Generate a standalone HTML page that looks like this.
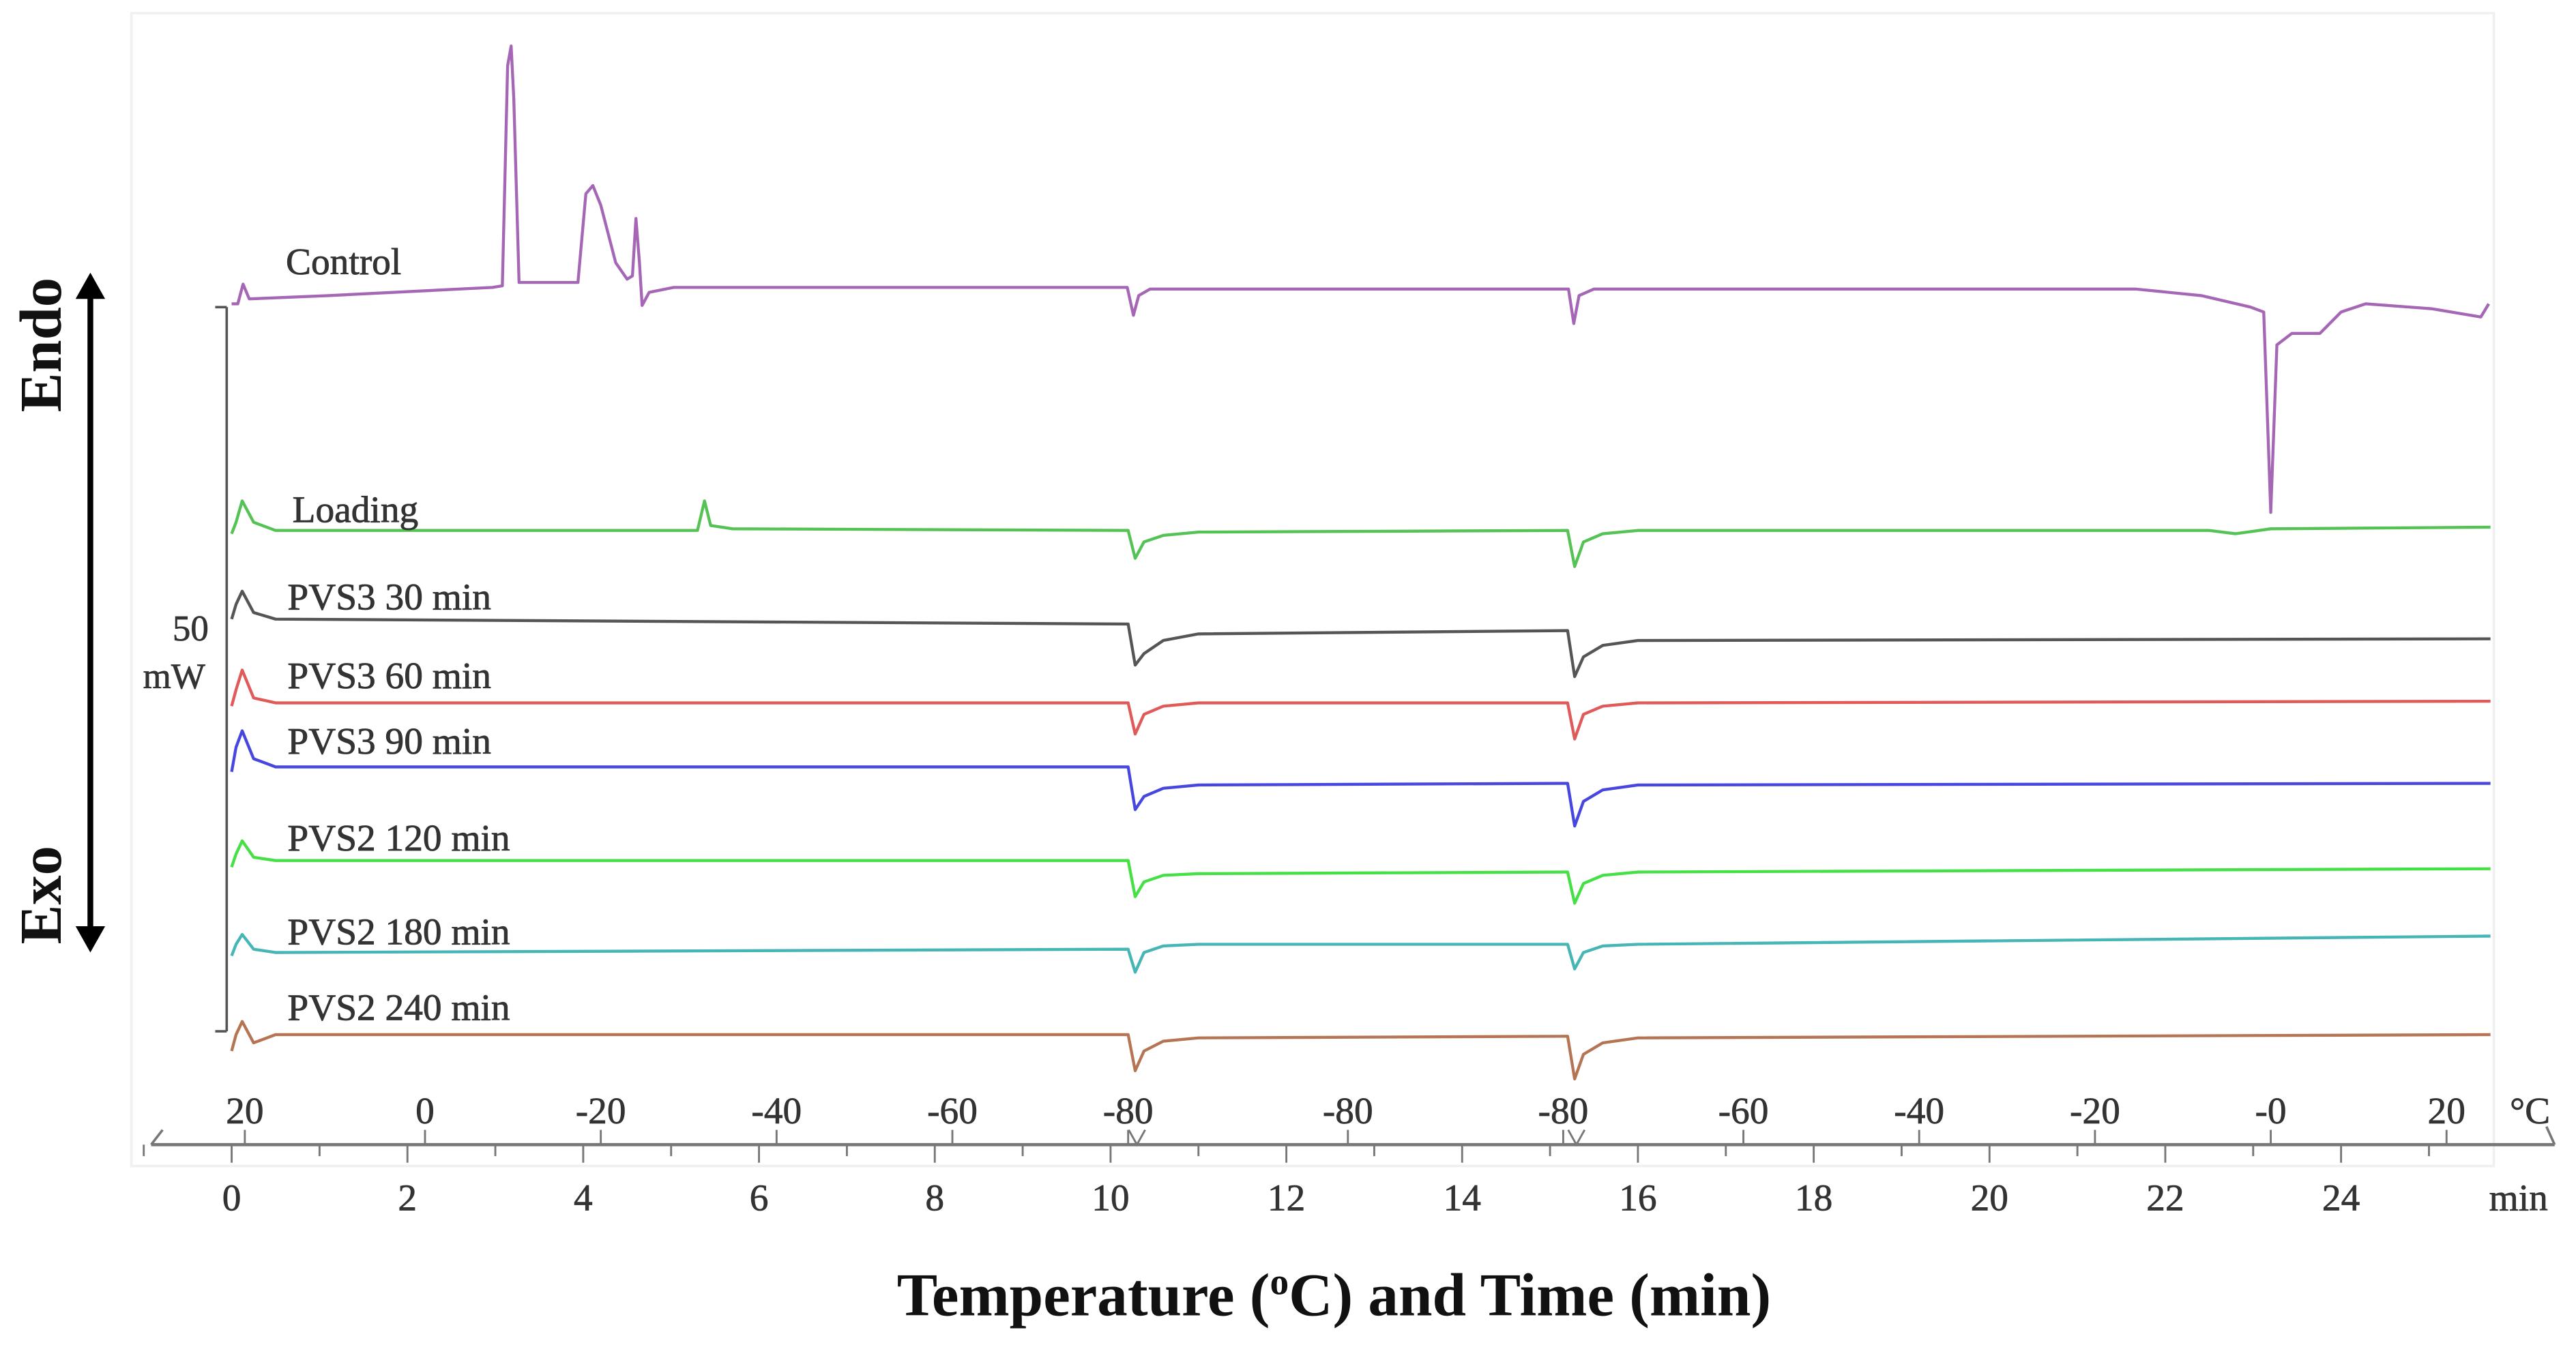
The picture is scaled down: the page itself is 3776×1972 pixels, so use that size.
<!DOCTYPE html>
<html><head><meta charset="utf-8"><style>
html,body{margin:0;padding:0;background:#fff;}
svg{display:block;}
text{font-family:"Liberation Serif",serif;}
</style></head><body>
<svg id="chart" width="3776" height="1972" viewBox="0 0 1568 819" preserveAspectRatio="none" xmlns="http://www.w3.org/2000/svg">
<rect x="80" y="8" width="1438" height="702" fill="#fff" stroke="#f0f0f0" stroke-width="1.5"/>
<g id="traces"></g>
<g id="axis"></g>
<line x1="138" y1="187" x2="138" y2="628" stroke="#555" stroke-width="1.5"/>
<line x1="131" y1="187" x2="138" y2="187" stroke="#555" stroke-width="1.5"/>
<line x1="131" y1="628" x2="138" y2="628" stroke="#555" stroke-width="1.5"/>
<text x="116" y="390" font-size="22" text-anchor="middle" fill="#333" stroke="#333" stroke-width="0.3">50</text>
<text x="106" y="419" font-size="22" text-anchor="middle" fill="#333" stroke="#333" stroke-width="0.3">mW</text>
<line x1="55" y1="178" x2="55" y2="570" stroke="#000" stroke-width="3.5"/>
<polygon points="55,166 46,182 64,182" fill="#000"/>
<polygon points="55,580 46,564 64,564" fill="#000"/>
<text transform="translate(37,210) rotate(-90)" font-size="36" font-weight="bold" text-anchor="middle" fill="#111">Endo</text>
<text transform="translate(37,545) rotate(-90)" font-size="36" font-weight="bold" text-anchor="middle" fill="#111">Exo</text>
<text x="812" y="801" font-size="37" font-weight="bold" text-anchor="middle" fill="#111">Temperature (<tspan font-size="23" dy="-13">o</tspan><tspan dy="13">C) and Time (min)</tspan></text>
</svg>
<script>
// ---- data ----
const timeTicks = [0,2,4,6,8,10,12,14,16,18,20,22,24];
const tempLabels = ["20","0","-20","-40","-60","-80","-80","-80","-60","-40","-20","-0","20"];
const tempLabelTimes = [0.15,2.2,4.2,6.2,8.2,10.2,12.7,15.15,17.2,19.2,21.2,23.2,25.2];
const seriesNames = ["Control","Loading","PVS3 30 min","PVS3 60 min","PVS3 90 min","PVS2 120 min","PVS2 180 min","PVS2 240 min"];
const seriesColors = ["#a566b5","#55c255","#555555","#e05a5a","#4747e0","#45e045","#45b5b5","#b57555"];
const controlT = [0,0.07,0.13,0.2,1.1,2.97,3.08,3.14,3.18,3.21,3.27,3.94,4.03,4.11,4.2,4.37,4.5,4.56,4.6,4.64,4.67,4.75,5.03,10.19,10.26,10.32,10.45,15.21,15.27,15.33,15.5,21.66,22.41,22.97,23.12,23.2,23.27,23.44,23.76,24.0,24.28,25.03,25.59,25.68];
const controlV = [515,515,527,518,520,525,526,660,672,640,528,528,582,587,575,540,530,532,567,540,514,522,525,525,508,520,524,524,503,520,524,524,520,513,510,388,490,497,497,510,515,512,507,515];
const loadingT = [0,0.05,0.12,0.25,0.5,5.3,5.38,5.45,5.7,10.2,10.28,10.38,10.6,11,15.2,15.28,15.38,15.6,16,22.5,22.8,23.2,25.7];
const loadingV = [375,382,395,382,377,377,395,380,378,377,360,370,374,376,377,355,370,375,377,377,375,378,379];
const commonT = [0,0.05,0.12,0.25,0.5,10.2,10.28,10.38,10.6,11,15.2,15.28,15.38,15.6,16,25.7];
const pvs3_30V = [323,332,340,327,323,320,295,302,310,314,316,288,300,307,310,311];
const pvs3_60V = [270,280,292,275,272,272,253,265,270,272,272,250,265,270,272,273];
const pvs3_90V = [230,245,255,238,233,233,207,215,220,222,223,197,212,219,222,223];
const pvs2_120V = [172,180,188,178,176,176,154,163,167,168,169,150,162,167,169,171];
const pvs2_180V = [118,125,131,122,120,122,108,120,124,125,125,110,120,124,125,130];
const pvs2_240V = [60,70,78,65,70,70,48,60,66,68,69,43,58,65,68,70];
const labelPos = [[174,167],[178,318],[175,371],[175,419],[175,459],[175,518],[175,575],[175,621]];

// ---- scales ----
const NS="http://www.w3.org/2000/svg";
function x(t){return 141 + t*(1425-141)/24;}
function y(v){return 700 - v;}

const traces=document.getElementById('traces');
const allT=[controlT,loadingT,commonT,commonT,commonT,commonT,commonT,commonT];
const allV=[controlV,loadingV,pvs3_30V,pvs3_60V,pvs3_90V,pvs2_120V,pvs2_180V,pvs2_240V];
for(let i=0;i<seriesNames.length;i++){
  const T=allT[i],V=allV[i];
  let d="";
  for(let j=0;j<T.length;j++){d+=(j?"L":"M")+x(T[j]).toFixed(2)+","+y(V[j]).toFixed(2);}
  const p=document.createElementNS(NS,'path');
  p.setAttribute('d',d);p.setAttribute('fill','none');p.setAttribute('stroke',seriesColors[i]);
  p.setAttribute('stroke-width','1.8');p.setAttribute('stroke-linejoin','round');
  
  
  traces.appendChild(p);
  const tx=document.createElementNS(NS,'text');
  tx.setAttribute('x',labelPos[i][0]);tx.setAttribute('y',labelPos[i][1]);
  tx.setAttribute('font-size','23');tx.setAttribute('fill','#333');
  tx.setAttribute('stroke','#333');tx.setAttribute('stroke-width','0.35');
  tx.textContent=seriesNames[i];
  
  
  traces.appendChild(tx);
}

const ax=document.getElementById('axis');
function el(tag,attrs){const e=document.createElementNS(NS,tag);for(const k in attrs)e.setAttribute(k,attrs[k]);ax.appendChild(e);return e;}
const axl=el('line',{x1:92,y1:697,x2:1555,y2:697,stroke:'#777','stroke-width':2});


const a1=el('path',{d:'M92,697 L99,688',stroke:'#777',fill:'none','stroke-width':1.5});


const a2=el('path',{d:'M1555,697 L1550,686',stroke:'#777',fill:'none','stroke-width':1.5});


for(let m=-1;m<=25;m++){
  const big=(m%2===0);
  const tk=el('line',{x1:x(m),y1:697,x2:x(m),y2:big?708:704,stroke:'#777','stroke-width':1.2});
  
  
}
for(let k=0;k<tempLabelTimes.length;k++){
  const tk=el('line',{x1:x(tempLabelTimes[k]),y1:688,x2:x(tempLabelTimes[k]),y2:697,stroke:'#777','stroke-width':1.2});
  
  
  const t=el('text',{x:x(tempLabelTimes[k]),y:684,'font-size':23,'text-anchor':'middle',fill:'#333',stroke:'#333','stroke-width':0.3});
  t.textContent=tempLabels[k];
  
  
}
for(let k=0;k<timeTicks.length;k++){
  const t=el('text',{x:x(timeTicks[k]),y:737,'font-size':23,'text-anchor':'middle',fill:'#333',stroke:'#333','stroke-width':0.3});
  t.textContent=timeTicks[k];
  
  
}
const cu=el('text',{x:1540,y:684,'font-size':23,'text-anchor':'middle',fill:'#333',stroke:'#333','stroke-width':0.3});cu.textContent="°C";


const mu=el('text',{x:1533,y:737,'font-size':23,'text-anchor':'middle',fill:'#333',stroke:'#333','stroke-width':0.3});mu.textContent="min";


[10.3,15.3].forEach(t=>{
  const v=el('path',{d:`M${x(t)-5},688 L${x(t)},697 L${x(t)+5},688`,stroke:'#777',fill:'none','stroke-width':1.2});
  
  
});
</script>
</body></html>
